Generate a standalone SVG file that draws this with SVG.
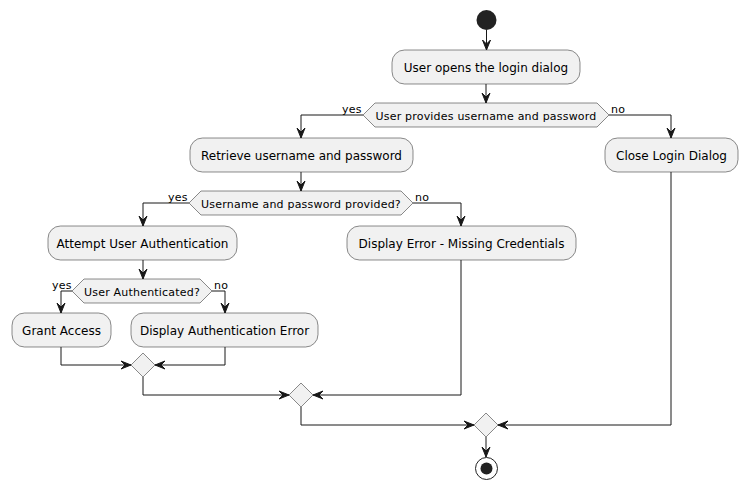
<svg xmlns="http://www.w3.org/2000/svg" width="747" height="489" viewBox="0 0 747 489">
<style>
.act{fill:#F1F1F1;stroke:#181818;stroke-width:0.5}
.t{font-family:"DejaVu Sans",sans-serif;font-size:12px;fill:#000;text-anchor:middle}
.d{font-family:"DejaVu Sans",sans-serif;font-size:11px;fill:#000;text-anchor:middle;letter-spacing:0.2px}
.l{font-family:"DejaVu Sans",sans-serif;font-size:11px;fill:#000;letter-spacing:0.2px}
.ln{fill:none;stroke:#181818;stroke-width:1}
.ah{fill:#181818;stroke:#181818;stroke-width:1}
</style>
<defs>
<polygon id="down" points="-4,-10 0,0 4,-10 0,-6"/>
<polygon id="right" points="-10,-4 0,0 -10,4 -6,0"/>
<polygon id="left" points="10,-4 0,0 10,4 6,0"/>
</defs>
<g id="start"><circle cx="486.5" cy="20" r="10" fill="#222222"/></g>
<g id="n1"><rect class="act" x="392" y="50" width="188" height="34" rx="12.5"/><text class="t" x="486" y="71.5">User opens the login dialog</text></g>
<g id="d1"><polygon class="act" points="363,115 375,103 597,103 609,115 597,127 375,127"/><text class="d" x="486" y="119.5">User provides username and password</text></g>
<g id="n2"><rect class="act" x="190" y="138" width="223" height="34" rx="12.5"/><text class="t" x="301.5" y="159.5">Retrieve username and password</text></g>
<g id="n3"><rect class="act" x="605" y="138" width="133" height="34" rx="12.5"/><text class="t" x="671.5" y="159.5">Close Login Dialog</text></g>
<g id="d2"><polygon class="act" points="189,203 201,191 401,191 413,203 401,215 201,215"/><text class="d" x="301" y="207.5">Username and password provided?</text></g>
<g id="n4"><rect class="act" x="48" y="226" width="189" height="34" rx="12.5"/><text class="t" x="142.5" y="247.5">Attempt User Authentication</text></g>
<g id="n5"><rect class="act" x="347" y="226" width="229" height="34" rx="12.5"/><text class="t" x="461.5" y="247.5">Display Error - Missing Credentials</text></g>
<g id="d3"><polygon class="act" points="72,291 84,279 200,279 212,291 200,303 84,303"/><text class="d" x="142" y="295.5">User Authenticated?</text></g>
<g id="n6"><rect class="act" x="12" y="313" width="99" height="34" rx="12.5"/><text class="t" x="61.5" y="334.5">Grant Access</text></g>
<g id="n7"><rect class="act" x="131" y="313" width="187" height="34" rx="12.5"/><text class="t" x="224.5" y="334.5">Display Authentication Error</text></g>
<g id="m1"><polygon class="act" points="143,353 155,365 143,377 131,365"/></g>
<g id="m2"><polygon class="act" points="301,383 313,395 301,407 289,395"/></g>
<g id="m3"><polygon class="act" points="486,413 498,425 486,437 474,425"/></g>
<g id="end"><circle cx="486.5" cy="468.5" r="11" fill="none" stroke="#222222" stroke-width="1"/><circle cx="486.5" cy="468.5" r="6" fill="#222222"/></g>
<g id="connectors">
<path class="ln" d="M486.5,30 V50"/><use href="#down" class="ah" x="486.5" y="50"/>
<path class="ln" d="M486,84 V103"/><use href="#down" class="ah" x="486" y="103"/>
<path class="ln" d="M363,115 H301 V138"/><use href="#down" class="ah" x="301" y="138"/>
<text class="l" x="342" y="112.5">yes</text>
<path class="ln" d="M609,115 H671 V138"/><use href="#down" class="ah" x="671" y="138"/>
<text class="l" x="611" y="112.5">no</text>
<path class="ln" d="M301,172 V191"/><use href="#down" class="ah" x="301" y="191"/>
<path class="ln" d="M189,203 H143 V226"/><use href="#down" class="ah" x="143" y="226"/>
<text class="l" x="168" y="200.5">yes</text>
<path class="ln" d="M413,203 H461 V226"/><use href="#down" class="ah" x="461" y="226"/>
<text class="l" x="415" y="200.5">no</text>
<path class="ln" d="M143,260 V279"/><use href="#down" class="ah" x="143" y="279"/>
<path class="ln" d="M72,291 H61 V313"/><use href="#down" class="ah" x="61" y="313"/>
<text class="l" x="52" y="288.5">yes</text>
<path class="ln" d="M212,291 H225 V313"/><use href="#down" class="ah" x="225" y="313"/>
<text class="l" x="214" y="288.5">no</text>
<path class="ln" d="M61,347 V365 H131"/><use href="#right" class="ah" x="131" y="365"/>
<path class="ln" d="M225,347 V365 H155"/><use href="#left" class="ah" x="155" y="365"/>
<path class="ln" d="M143,377 V395 H289"/><use href="#right" class="ah" x="289" y="395"/>
<path class="ln" d="M461,260 V395 H313"/><use href="#left" class="ah" x="313" y="395"/>
<path class="ln" d="M301,407 V425 H474"/><use href="#right" class="ah" x="474" y="425"/>
<path class="ln" d="M671,172 V425 H498"/><use href="#left" class="ah" x="498" y="425"/>
<path class="ln" d="M486,437 V457"/><use href="#down" class="ah" x="486" y="457"/>
</g>
</svg>
